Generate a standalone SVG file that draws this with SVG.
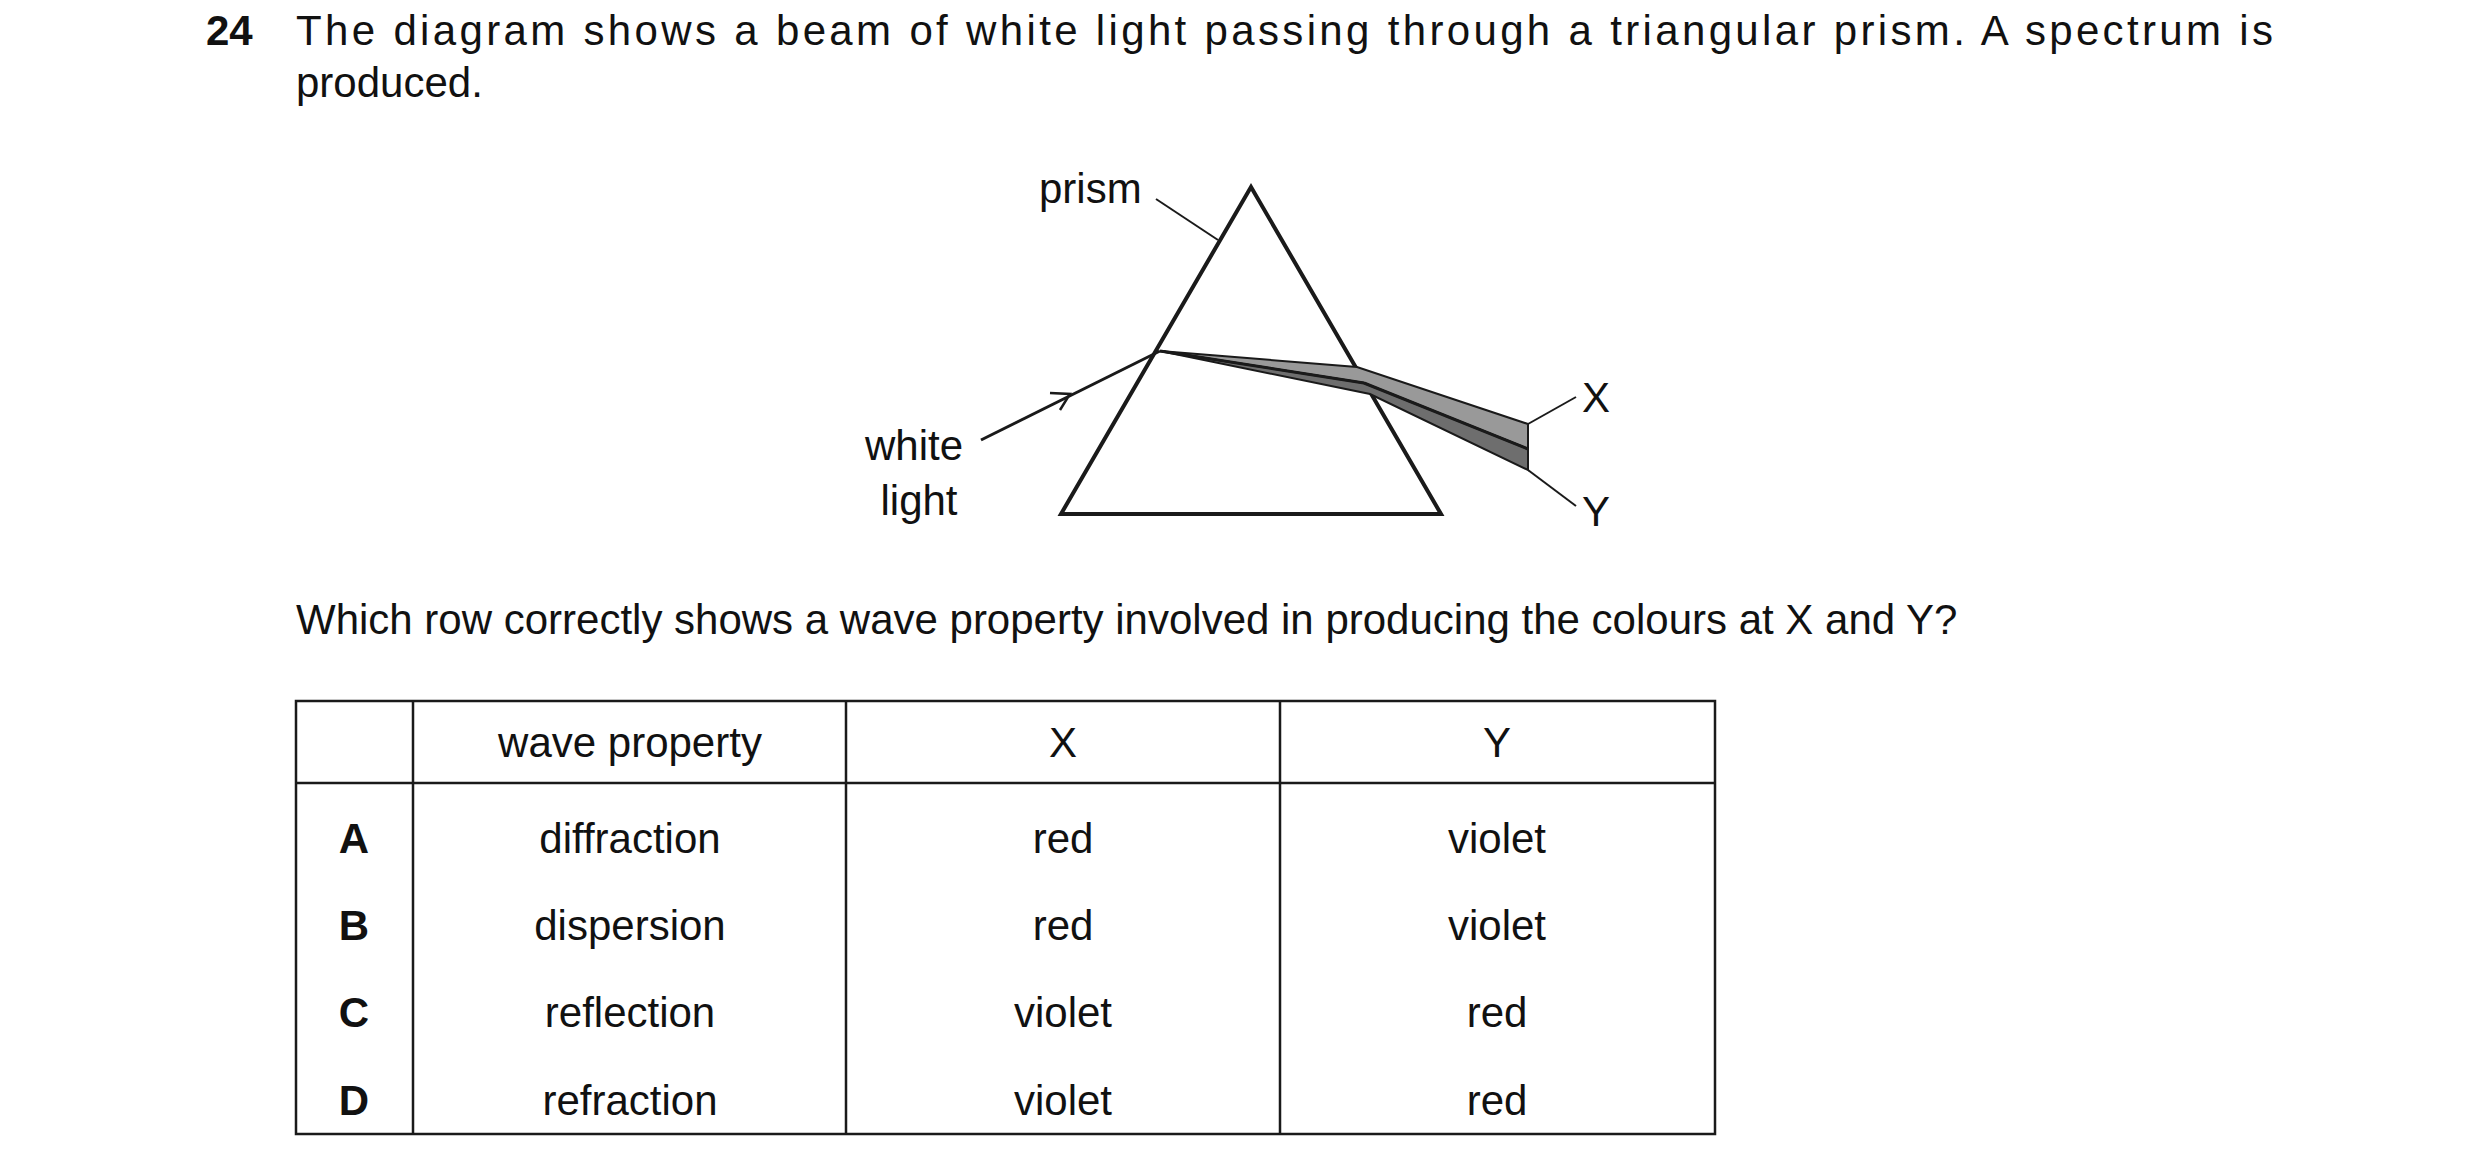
<svg xmlns="http://www.w3.org/2000/svg" width="2480" height="1175" viewBox="0 0 2480 1175">
<style>
text{font-family:"Liberation Sans",Arial,sans-serif;font-size:42px;fill:#111}
.b{font-weight:bold}
.c{text-anchor:middle}
.ln{stroke:#1a1a1a;fill:none}
</style>
<rect width="2480" height="1175" fill="#fff"/>
<text class="b" x="206" y="45">24</text>
<text x="296" y="45" textLength="1977" lengthAdjust="spacing">The diagram shows a beam of white light passing through a triangular prism. A spectrum is</text>
<text x="296" y="97">produced.</text>
<g id="prism">
<polygon class="ln" points="1251,187 1061,514 1441,514" stroke-width="4"/>
</g>
<g id="spectrum">
<polygon points="1160,351 1357,367 1528,424 1528,449 1364,383" fill="#999" stroke="#1a1a1a" stroke-width="2"/>
<polygon points="1160,351 1364,383 1528,449 1528,470 1370,394" fill="#6e6e6e" stroke="#1a1a1a" stroke-width="2"/>
<line class="ln" x1="1160" y1="351" x2="1364" y2="383" stroke-width="3"/>
<line class="ln" x1="1364" y1="383" x2="1528" y2="449" stroke-width="3"/>
</g>
<g id="connectors">
<line class="ln" x1="981" y1="440" x2="1160" y2="351" stroke-width="3"/>
<polyline class="ln" points="1050,393 1070,394 1060,410" stroke-width="2.5"/>
<line class="ln" x1="1156" y1="199" x2="1218" y2="240" stroke-width="2"/>
<line class="ln" x1="1528" y1="424" x2="1576" y2="397" stroke-width="2"/>
<line class="ln" x1="1528" y1="470" x2="1576" y2="506" stroke-width="2"/>
</g>
<g id="labels">
<text x="1039" y="203">prism</text>
<text x="865" y="460">white</text>
<text class="c" x="919" y="515">light</text>
<text x="1582" y="412">X</text>
<text x="1582" y="526">Y</text>
</g>
<text x="296" y="634">Which row correctly shows a wave property involved in producing the colours at X and Y?</text>
<g id="table">
<rect class="ln" x="296" y="701" width="1419" height="433" stroke-width="2.5"/>
<line class="ln" x1="296" y1="783" x2="1715" y2="783" stroke-width="2.5"/>
<line class="ln" x1="413" y1="701" x2="413" y2="1134" stroke-width="2.5"/>
<line class="ln" x1="846" y1="701" x2="846" y2="1134" stroke-width="2.5"/>
<line class="ln" x1="1280" y1="701" x2="1280" y2="1134" stroke-width="2.5"/>
<text class="c" x="630" y="757">wave property</text>
<text class="c" x="1063" y="757">X</text>
<text class="c" x="1497" y="757">Y</text>
<text class="c b" x="354" y="853">A</text>
<text class="c" x="630" y="853">diffraction</text>
<text class="c" x="1063" y="853">red</text>
<text class="c" x="1497" y="853">violet</text>
<text class="c b" x="354" y="940">B</text>
<text class="c" x="630" y="940">dispersion</text>
<text class="c" x="1063" y="940">red</text>
<text class="c" x="1497" y="940">violet</text>
<text class="c b" x="354" y="1027">C</text>
<text class="c" x="630" y="1027">reflection</text>
<text class="c" x="1063" y="1027">violet</text>
<text class="c" x="1497" y="1027">red</text>
<text class="c b" x="354" y="1115">D</text>
<text class="c" x="630" y="1115">refraction</text>
<text class="c" x="1063" y="1115">violet</text>
<text class="c" x="1497" y="1115">red</text>
</g>
</svg>
